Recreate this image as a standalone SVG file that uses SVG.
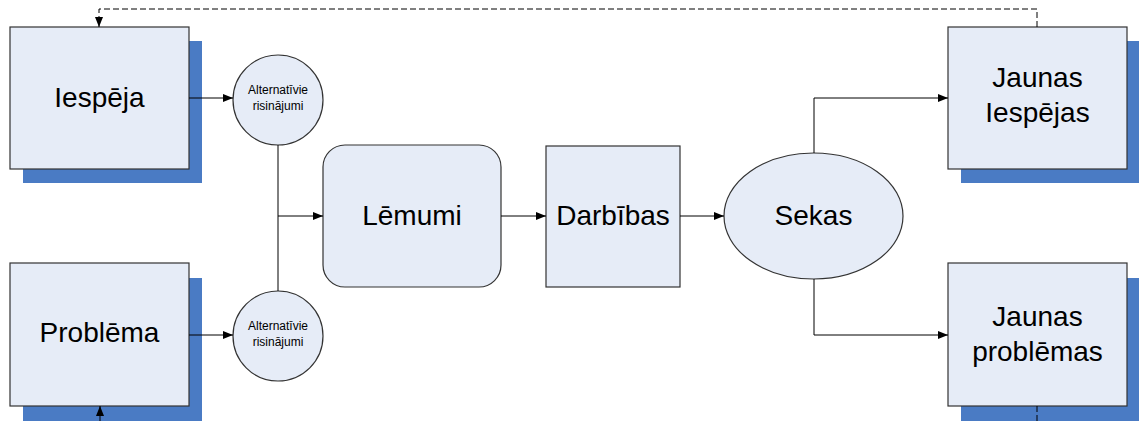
<svg xmlns="http://www.w3.org/2000/svg" width="1139" height="421" viewBox="0 0 1139 421">
<defs>
<style>
.box{fill:#E6ECF7;stroke:#333;stroke-width:1.2}
.sh{fill:#4A7BC4}
.t{font-family:"Liberation Sans",Arial,sans-serif;font-size:28px;fill:#000;text-anchor:middle}
.s{font-family:"Liberation Sans",Arial,sans-serif;font-size:12px;fill:#000;text-anchor:middle}
.c{fill:none;stroke:#000;stroke-width:1}
.d{fill:none;stroke:#000;stroke-width:1;stroke-dasharray:6,3}
</style>
<marker id="ah" viewBox="0 0 10 8" refX="10" refY="4" markerWidth="10" markerHeight="8" markerUnits="userSpaceOnUse" orient="auto">
<path d="M0,0 L10,4 L0,8 Z" fill="#000"/>
</marker>
</defs>
<rect width="1139" height="421" fill="#fff"/>
<g id="iespeja">
<rect class="sh" x="23" y="41" width="179" height="142"/>
<rect class="box" x="10" y="27" width="179" height="142"/>
<text class="t" x="99.5" y="107">Iespēja</text>
</g>
<g id="problema">
<rect class="sh" x="23" y="278" width="179" height="143"/>
<rect class="box" x="10" y="263" width="179" height="143"/>
<text class="t" x="99.5" y="342">Problēma</text>
</g>
<g id="alt1">
<circle class="box" cx="278" cy="100" r="45"/>
<text class="s" x="278" y="94">Alternatīvie</text>
<text class="s" x="278" y="110">risinājumi</text>
</g>
<g id="alt2">
<circle class="box" cx="278" cy="336" r="45"/>
<text class="s" x="278" y="330">Alternatīvie</text>
<text class="s" x="278" y="346">risinājumi</text>
</g>
<g id="lemumi">
<rect class="box" x="323" y="145" width="178" height="142" rx="22" ry="22"/>
<text class="t" x="412" y="225">Lēmumi</text>
</g>
<g id="darbibas">
<rect class="box" x="546" y="146" width="134" height="141"/>
<text class="t" x="613" y="225">Darbības</text>
</g>
<g id="sekas">
<ellipse class="box" cx="813.5" cy="216" rx="89.5" ry="63"/>
<text class="t" x="813.5" y="225">Sekas</text>
</g>
<g id="jaunas-iespejas">
<rect class="sh" x="961" y="41" width="179" height="142"/>
<rect class="box" x="948" y="27" width="179" height="142"/>
<text class="t" x="1037.5" y="87">Jaunas</text>
<text class="t" x="1037.5" y="122">Iespējas</text>
</g>
<g id="jaunas-problemas">
<rect class="sh" x="961" y="278" width="179" height="143"/>
<rect class="box" x="948" y="263" width="179" height="143"/>
<text class="t" x="1037.5" y="326">Jaunas</text>
<text class="t" x="1037.5" y="361">problēmas</text>
</g>
<g id="connectors">
<path class="c" d="M189,98 L233,98" marker-end="url(#ah)"/>
<path class="c" d="M189,335 L233,335" marker-end="url(#ah)"/>
<path class="c" d="M278,145 L278,291"/>
<path class="c" d="M278,216 L323,216" marker-end="url(#ah)"/>
<path class="c" d="M501,216 L546,216" marker-end="url(#ah)"/>
<path class="c" d="M680,216 L724,216" marker-end="url(#ah)"/>
<path class="c" d="M814,153 L814,98 L948,98" marker-end="url(#ah)"/>
<path class="c" d="M814,279 L814,335 L948,335" marker-end="url(#ah)"/>
<path class="d" d="M1037,27 L1037,9 L99,9 L99,27" marker-end="url(#ah)"/>
<path class="d" d="M1037,406 L1037,421"/>
<path class="c" d="M100,421 L100,406" marker-end="url(#ah)"/>
</g>
</svg>
